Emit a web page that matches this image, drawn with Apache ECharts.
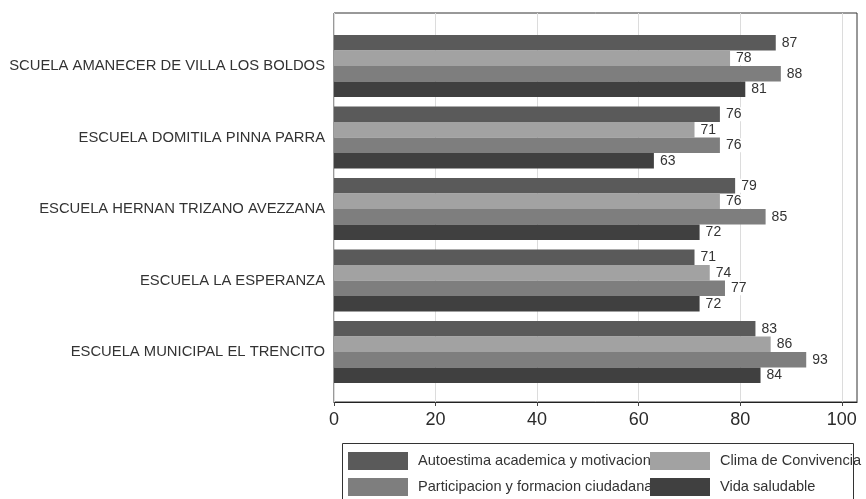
<!DOCTYPE html>
<html>
<head>
<meta charset="utf-8">
<script src="https://cdn.jsdelivr.net/npm/echarts@6/dist/echarts.min.js"></script>
<style>
  html, body { margin: 0; padding: 0; background: #fff; }
  #chart { width: 866px; height: 499px; }
</style>
</head>
<body>
<div id="chart"></div>
<script>
// School names (top to bottom)
const schools = [
  "SCUELA AMANECER DE VILLA LOS BOLDOS",
  "ESCUELA DOMITILA PINNA PARRA",
  "ESCUELA HERNAN TRIZANO AVEZZANA",
  "ESCUELA LA ESPERANZA",
  "ESCUELA MUNICIPAL EL TRENCITO"
];

// Indicator names
const seriesNames = [
  "Autoestima academica y motivacion",
  "Clima de Convivencia",
  "Participacion y formacion ciudadana",
  "Vida saludable"
];

// Scores per indicator, one value per school
const autoestima = [87, 76, 79, 71, 83];
const clima = [78, 71, 76, 74, 86];
const participacion = [88, 76, 85, 77, 93];
const vidaSaludable = [81, 63, 72, 72, 84];

// Axis tick labels
const xTicks = [0, 20, 40, 60, 80, 100];

const values = [autoestima, clima, participacion, vidaSaludable];
const colors = ["#5a5a5a", "#a2a2a2", "#7e7e7e", "#404040"];

const FRAME = { left: 334, top: 13, right: 857, bottom: 402 };
const BAR_W = 15.5;
const groupTop = 35, groupBottom = 383;
const c1 = groupTop + 2 * BAR_W, c5 = groupBottom - 2 * BAR_W;
const band = (c5 - c1) / (schools.length - 1);
const barsTop = c1 - band / 2;
const barsHeight = band * schools.length;
const X_MAX = 103;

const chart = echarts.init(document.getElementById('chart'), null, { renderer: 'canvas' });

const textFont = 'Liberation Sans, Arial, Helvetica, sans-serif';

const series = values.map((vals, i) => ({
  name: seriesNames[i],
  type: 'bar',
  xAxisIndex: 1,
  yAxisIndex: 1,
  data: vals,
  barWidth: BAR_W,
  barGap: '0%',
  itemStyle: { color: colors[i] },
  label: {
    show: true,
    position: 'right',
    distance: 4,
    fontFamily: textFont,
    fontSize: 14,
    color: '#333',
    backgroundColor: '#fff',
    padding: [0, 2, 0, 2]
  },
  emphasis: { disabled: true },
  animation: false
}));

// One legend block per entry, laid out in two columns
const legendPos = [
  { left: 348, top: 452 },
  { left: 650, top: 452 },
  { left: 348, top: 478 },
  { left: 650, top: 478 }
];
const legends = seriesNames.map((name, i) => ({
  data: [name],
  left: legendPos[i].left,
  top: legendPos[i].top,
  itemWidth: 60,
  itemHeight: 18,
  itemGap: 0,
  padding: 0,
  selectedMode: false,
  icon: 'rect',
  textStyle: { fontFamily: textFont, fontSize: 14.6, color: '#333', padding: [0, 0, 0, 5] }
}));

const option = {
  backgroundColor: '#fff',
  animation: false,
  legend: legends,
  graphic: [{
    type: 'rect',
    shape: { x: 342.5, y: 443.5, width: 511, height: 70 },
    style: { fill: 'none', stroke: '#333', lineWidth: 1 },
    z: -1
  }],
  grid: [
    {
      left: FRAME.left, top: FRAME.top,
      width: FRAME.right - FRAME.left, height: FRAME.bottom - FRAME.top,
      show: true, borderColor: '#333', borderWidth: 1, backgroundColor: 'transparent'
    },
    {
      left: FRAME.left, top: barsTop,
      width: FRAME.right - FRAME.left, height: barsHeight
    }
  ],
  xAxis: [
    {
      gridIndex: 0, type: 'value', min: 0, max: X_MAX, interval: 20,
      axisLine: { show: true, lineStyle: { color: '#222', width: 1.2 } },
      axisTick: { show: true, length: 4, lineStyle: { color: '#444' }, customValues: xTicks },
      axisLabel: {
        fontFamily: textFont, fontSize: 18, color: '#2a2a2a', margin: 9,
        customValues: xTicks
      },
      splitLine: { show: true, lineStyle: { color: '#dcdcdc', width: 1 } }
    },
    { gridIndex: 1, type: 'value', min: 0, max: X_MAX, show: false }
  ],
  yAxis: [
    { gridIndex: 0, type: 'value', show: false, min: 0, max: 1 },
    {
      gridIndex: 1, type: 'category', data: schools, inverse: true,
      axisLine: { show: false }, axisTick: { show: false },
      axisLabel: { fontFamily: textFont, fontSize: 14.8, color: '#333', margin: 9 },
      splitLine: { show: false }
    }
  ],
  series: series
};

chart.setOption(option);
</script>
</body>
</html>
